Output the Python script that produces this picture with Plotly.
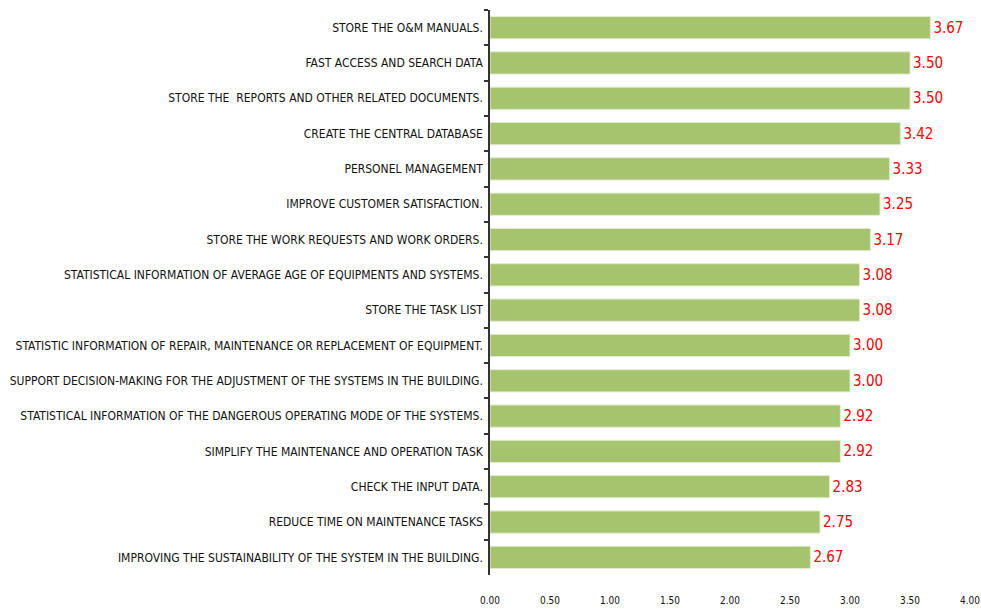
import plotly.graph_objects as go

categories = [
    "STORE THE O&M MANUALS.",
    "FAST ACCESS AND SEARCH DATA",
    "STORE THE  REPORTS AND OTHER RELATED DOCUMENTS.",
    "CREATE THE CENTRAL DATABASE",
    "PERSONEL MANAGEMENT",
    "IMPROVE CUSTOMER SATISFACTION.",
    "STORE THE WORK REQUESTS AND WORK ORDERS.",
    "STATISTICAL INFORMATION OF AVERAGE AGE OF EQUIPMENTS AND SYSTEMS.",
    "STORE THE TASK LIST",
    "STATISTIC INFORMATION OF REPAIR, MAINTENANCE OR REPLACEMENT OF EQUIPMENT.",
    "SUPPORT DECISION-MAKING FOR THE ADJUSTMENT OF THE SYSTEMS IN THE BUILDING.",
    "STATISTICAL INFORMATION OF THE DANGEROUS OPERATING MODE OF THE SYSTEMS.",
    "SIMPLIFY THE MAINTENANCE AND OPERATION TASK",
    "CHECK THE INPUT DATA.",
    "REDUCE TIME ON MAINTENANCE TASKS",
    "IMPROVING THE SUSTAINABILITY OF THE SYSTEM IN THE BUILDING.",
]
values = [3.67, 3.50, 3.50, 3.42, 3.33, 3.25, 3.17, 3.08, 3.08, 3.00, 3.00, 2.92, 2.92, 2.83, 2.75, 2.67]
x_ticks = [0, 0.5, 1, 1.5, 2, 2.5, 3, 3.5, 4]
x_tick_labels = ["0.00", "0.50", "1.00", "1.50", "2.00", "2.50", "3.00", "3.50", "4.00"]

FONT = "DejaVu Sans Condensed"

fig = go.Figure(go.Bar(
    y=categories,
    x=values,
    orientation="h",
    marker=dict(color="#A6C46E", line=dict(color="#E3ECD0", width=1)),
    text=[f"{v:.2f}" for v in values],
    textposition="outside",
    textfont=dict(color="#FF0000", size=15, family=FONT),
    cliponaxis=False,
))

fig.update_layout(
    width=981, height=609,
    margin=dict(l=490, r=11, t=10, b=34, autoexpand=False),
    plot_bgcolor="white", paper_bgcolor="white",
    bargap=0.37,
    showlegend=False,
    font=dict(family=FONT, color="#111111"),
)
fig.update_yaxes(
    type="category",
    categoryorder="array", categoryarray=categories,
    autorange="reversed",
    automargin=False,
    showline=True, linecolor="#333333", linewidth=1.5,
    ticks="outside", ticklen=4, tickcolor="#333333", tickwidth=1.5,
    tickson="boundaries",
    ticklabelstandoff=3,
    tickfont=dict(size=12, family=FONT, color="#111111"),
    showgrid=False,
)
fig.update_xaxes(
    range=[0, 4],
    automargin=False,
    tickvals=x_ticks, ticktext=x_tick_labels,
    showline=False, showgrid=False, zeroline=False,
    ticks="outside", ticklen=16, tickcolor="rgba(0,0,0,0)",
    tickfont=dict(size=10, family=FONT, color="#111111"),
)

fig.write_html(
    "out.html",
    config={"displayModeBar": False},
    post_script="document.body.style.margin='0';document.body.style.overflow='hidden';",
)
